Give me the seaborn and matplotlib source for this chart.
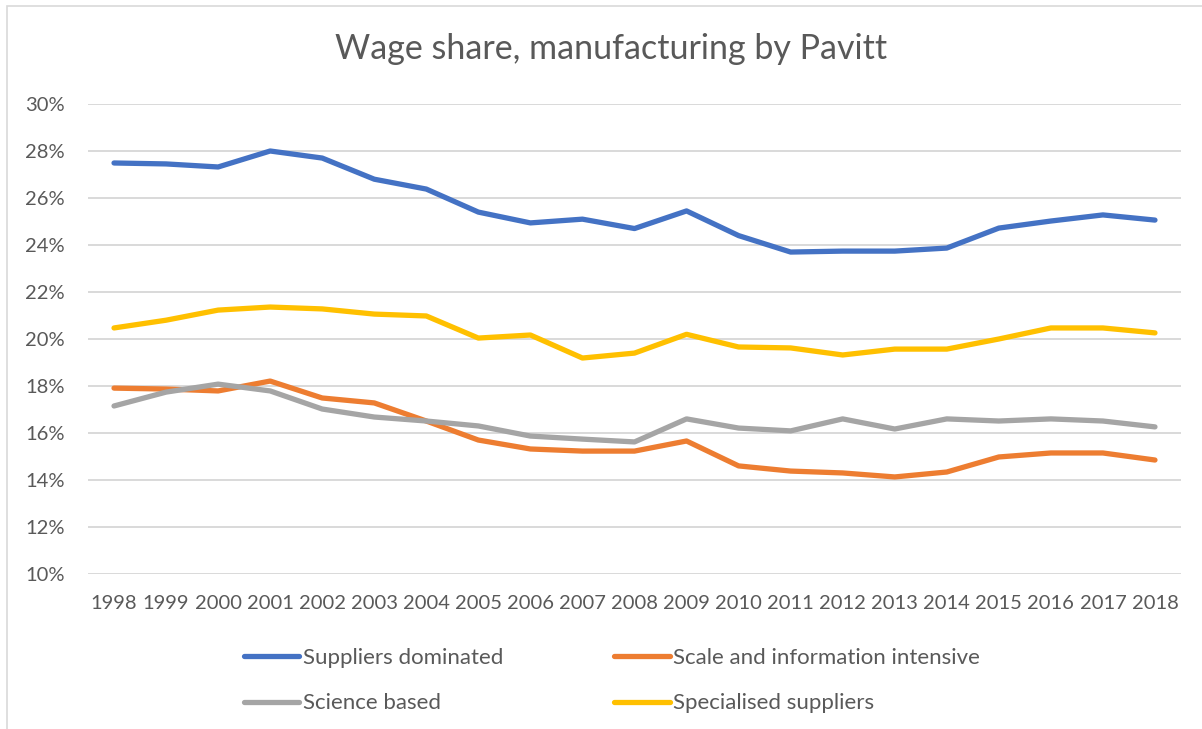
import matplotlib
matplotlib.use('Agg')
import matplotlib.pyplot as plt
import matplotlib.patches as mpatches
import seaborn as sns
import pandas as pd
from matplotlib.ticker import PercentFormatter

years = list(range(1998, 2019))
suppliers_dominated = [27.49, 27.45, 27.32, 28.0, 27.7, 26.8, 26.38, 25.4, 24.94, 25.1, 24.7,
                       25.45, 24.4, 23.7, 23.74, 23.74, 23.87, 24.72, 25.02, 25.28, 25.06]
scale_info_intensive = [17.91, 17.87, 17.79, 18.21, 17.49, 17.28, 16.51, 15.7, 15.32, 15.23, 15.23,
                        15.66, 14.6, 14.38, 14.3, 14.13, 14.34, 14.98, 15.15, 15.15, 14.85]
science_based = [17.15, 17.74, 18.08, 17.79, 17.02, 16.68, 16.51, 16.3, 15.87, 15.74, 15.62,
                 16.6, 16.21, 16.09, 16.6, 16.17, 16.6, 16.51, 16.6, 16.51, 16.26]
specialised_suppliers = [20.47, 20.8, 21.23, 21.36, 21.28, 21.06, 20.98, 20.04, 20.17, 19.19, 19.4,
                         20.2, 19.66, 19.62, 19.32, 19.57, 19.57, 20.0, 20.47, 20.47, 20.26]

series = {
    'Suppliers dominated': suppliers_dominated,
    'Scale and information intensive': scale_info_intensive,
    'Science based': science_based,
    'Specialised suppliers': specialised_suppliers,
}
colors = {
    'Suppliers dominated': '#4472C4',
    'Scale and information intensive': '#ED7D31',
    'Science based': '#A5A5A5',
    'Specialised suppliers': '#FFC000',
}

rows = []
for name, vals in series.items():
    for y, v in zip(years, vals):
        rows.append({'year': y, 'share': v / 100, 'series': name})
df = pd.DataFrame(rows)

sns.set_style('white')
plt.rcParams['font.family'] = ['Lato', 'DejaVu Sans']
txt = '#595959'

fig = plt.figure(figsize=(12.02, 7.29), dpi=100)
ax = fig.add_axes([88 / 1202, 155 / 729, (1181 - 88) / 1202, 470 / 729])

sns.lineplot(data=df, x='year', y='share', hue='series', palette=colors,
             hue_order=list(series.keys()), linewidth=3.8, ax=ax,
             solid_capstyle='round', legend=False)

ax.set_xlim(1997.5, 2018.5)
ax.set_ylim(0.10, 0.30)
ax.set_yticks([0.10 + 0.02 * i for i in range(11)])
ax.yaxis.set_major_formatter(PercentFormatter(1.0, decimals=0))
ax.set_xticks(years)
ax.set_xticklabels([str(y) for y in years])
ax.tick_params(axis='both', labelsize=14.5, colors=txt, length=0)
ax.tick_params(axis='x', pad=15)
ax.tick_params(axis='y', pad=16.5)
ax.grid(axis='y', color='#d9d9d9', linewidth=1.4)
ax.set_axisbelow(True)
for s in ax.spines.values():
    s.set_visible(False)
ax.set_xlabel('')
ax.set_ylabel('')

fig.text(0.508, 1 - 49 / 729, 'Wage share, manufacturing by Pavitt', ha='center', va='center',
         fontsize=24.5, color=txt)

# legend, filled row by row
order = ['Suppliers dominated', 'Science based', 'Scale and information intensive', 'Specialised suppliers']
handles = [plt.Line2D([], [], color=colors[n], linewidth=3.8, solid_capstyle='round') for n in order]
fig.legend(handles, order, ncol=2, loc='center', bbox_to_anchor=(0.509, 1 - 680.5 / 729),
           frameon=False, fontsize=16, labelcolor=txt, handlelength=2.5, handletextpad=0.15,
           columnspacing=5.0, labelspacing=1.15)

fig.patches.append(mpatches.Rectangle((7 / 1202, -0.05), 2, (729 - 6) / 729 + 0.05,
                                      transform=fig.transFigure, fill=False,
                                      edgecolor='#d9d9d9', linewidth=1.2))

fig.savefig('out.png', dpi=100, facecolor='white')
